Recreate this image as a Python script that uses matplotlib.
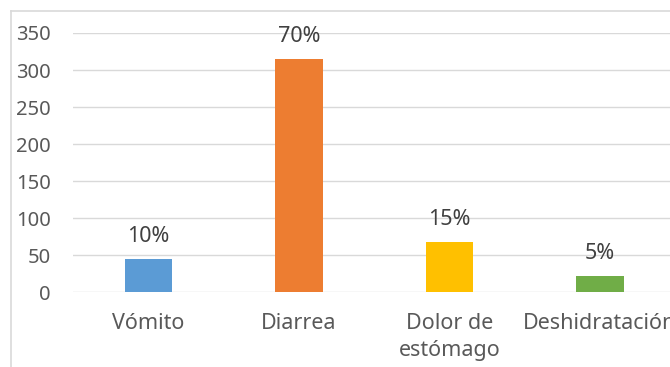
import matplotlib.pyplot as plt
from matplotlib.lines import Line2D

categories = ["Vómito", "Diarrea", "Dolor de\nestómago", "Deshidratación"]
values = [45, 315, 68, 22]
pct_labels = ["10%", "70%", "15%", "5%"]
colors = ["#5B9BD5", "#ED7D31", "#FFC000", "#70AD47"]
yticks = [0, 50, 100, 150, 200, 250, 300, 350]

plt.rcParams["font.family"] = ["Noto Sans", "DejaVu Sans"]

W, H = 670, 367
fig = plt.figure(figsize=(W / 100, H / 100), dpi=100)

# plot area in pixel coords (from the reference), converted to figure fraction
left_px, right_px, top_px, bottom_px = 73.3, 675.0, 33.0, 292.3
ax = fig.add_axes([left_px / W, 1 - bottom_px / H,
                   (right_px - left_px) / W, (bottom_px - top_px) / H])

x = list(range(len(categories)))
ax.bar(x, values, width=0.316, color=colors, zorder=3)

for xi, v, lab in zip(x, values, pct_labels):
    ax.annotate(lab, (xi, v), xytext=(0, 12.5), textcoords="offset points",
                ha="center", va="baseline", fontsize=15.5, color="#404040")

ax.set_xlim(-0.5, len(categories) - 0.5)
ax.set_ylim(0, 350)
ax.set_yticks(yticks)
ax.set_xticks(x)
ax.set_xticklabels(categories, linespacing=1.37, fontsize=15.5)
ax.grid(axis="y", color="#d9d9d9", linewidth=1.0, zorder=0)
ax.set_axisbelow(True)
for s in ax.spines.values():
    s.set_visible(False)
ax.tick_params(axis="both", length=0, colors="#595959")
ax.tick_params(axis="y", pad=16, labelsize=14.5)
ax.tick_params(axis="x", pad=15)

# chart area border (cropped at right and bottom in the reference)
bx, by = 10.5 / W, 1 - 10.5 / H
fig.add_artist(Line2D([bx, bx], [0, by], color="#d9d9d9", linewidth=1.2,
                      transform=fig.transFigure))
fig.add_artist(Line2D([bx, 1], [by, by], color="#d9d9d9", linewidth=1.2,
                      transform=fig.transFigure))

fig.savefig("out.png", dpi=100)
